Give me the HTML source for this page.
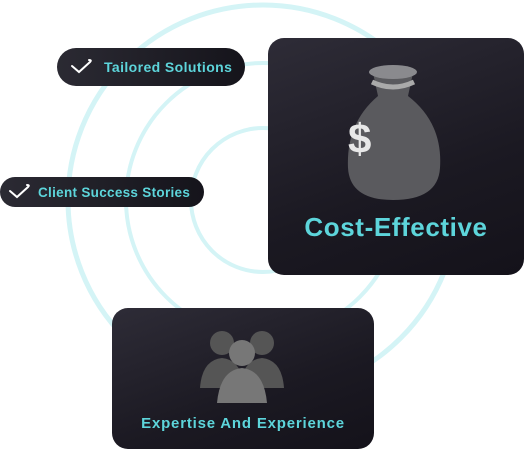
<!DOCTYPE html>
<html><head><meta charset="utf-8"><style>
body{margin:0;width:524px;height:449px;background:#fff;position:relative;overflow:hidden;font-family:"Liberation Sans",sans-serif}
.card{position:absolute;border-radius:16px;background:linear-gradient(160deg,#2e2c37 0%,#1b1922 60%,#14121a 100%)}
.pill{position:absolute;border-radius:20px;background:linear-gradient(90deg,#2b2a33,#15141b);color:#5dd5db;font-weight:bold;display:flex;align-items:center}
</style></head><body>
<svg style="position:absolute;left:0;top:0" width="524" height="449">
<circle cx="263" cy="200" r="195" fill="none" stroke="#d4f4f6" stroke-width="5"/>
<circle cx="263" cy="200" r="137" fill="none" stroke="#d4f4f6" stroke-width="4"/>
<circle cx="263" cy="200" r="72" fill="none" stroke="#d4f4f6" stroke-width="4"/>
</svg>
<div class="pill" style="left:57px;top:48px;width:188px;height:38px;font-size:14px;letter-spacing:0.4px">
<svg width="24" height="18" style="margin:0 10px 0 13px"><path d="M2 8 L9 14 L20 4 Q22 2 19 2" fill="none" stroke="#fff" stroke-width="2" stroke-linecap="round"/></svg>Tailored Solutions</div>
<div class="pill" style="left:0;top:177px;width:204px;height:30px;font-size:13.5px;letter-spacing:0.3px">
<svg width="24" height="16" style="margin:0 6px 0 8px"><path d="M2 7 L9 13 L20 3 Q22 1 19 1" fill="none" stroke="#fff" stroke-width="2" stroke-linecap="round"/></svg>Client Success Stories</div>
<div class="card" style="left:268px;top:38px;width:256px;height:237px">
<svg width="256" height="170">
<path d="M105 35 Q125 42 145 35 L140 58 Q175 85 172 130 Q170 162 125 162 Q82 162 80 130 Q78 85 110 58 Z" fill="#5a5a5e"/>
<ellipse cx="125" cy="34" rx="24" ry="7" fill="#8a8a8e"/>
<path d="M104 44 Q125 54 146 44" stroke="#aaa" stroke-width="5" fill="none"/>
<text x="80" y="115" font-size="42" font-weight="bold" fill="#e8e8e8" font-family="Liberation Sans">$</text>
</svg>
<div style="position:absolute;left:0;width:256px;top:174px;text-align:center;color:#5dd5db;font-weight:bold;font-size:26px;letter-spacing:0.6px">Cost-Effective</div>
</div>
<div class="card" style="left:112px;top:308px;width:262px;height:141px">
<svg width="262" height="100">
<circle cx="110" cy="35" r="12" fill="#555"/><circle cx="150" cy="35" r="12" fill="#555"/>
<path d="M88 80 Q90 52 110 50 Q130 52 132 80 Z" fill="#555"/><path d="M128 80 Q130 52 150 50 Q170 52 172 80 Z" fill="#555"/>
<circle cx="130" cy="45" r="13" fill="#777"/><path d="M105 95 Q108 62 130 60 Q152 62 155 95 Z" fill="#777"/>
</svg>
<div style="position:absolute;left:0;width:262px;top:107px;text-align:center;color:#5dd5db;font-weight:bold;font-size:15px;letter-spacing:0.8px">Expertise And Experience</div>
</div>
</body></html>
